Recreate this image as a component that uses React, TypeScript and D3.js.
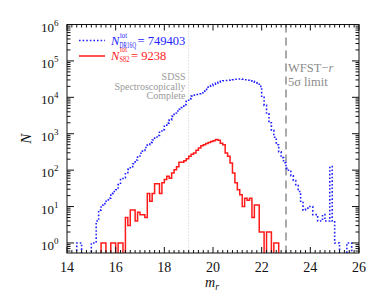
import React from 'react';
import * as d3 from 'd3';

// histogram bins are 0.1 mag wide, counts listed from the first bin edge
const binWidth = 0.1;

const blueStart = 14.4;
const blueCounts = [
  1, 1, 0, 0, 0, 0, 1, 1, 4, 8,
  11, 12, 14, 17, 23, 26, 29, 40, 55, 62,
  85, 105, 125, 150, 190, 230, 290, 350, 420, 500,
  580, 670, 760, 900, 1100, 1300, 1600, 1950, 2400, 3000,
  3700, 4200, 4700, 5200, 6300, 7800, 9200, 10800, 11500, 12000,
  12500, 13300, 14800, 16500, 19000, 21000, 23000, 24500, 26000, 27500,
  28500, 29000, 29500, 30000, 30500, 31500, 32000, 32000, 31500, 30500,
  29500, 28500, 27500, 26000, 25000, 20000, 10000, 6000, 3500, 2000,
  1250, 800, 500, 320, 220, 160, 112, 93, 70, 52,
  38, 26, 14, 8, 9, 10, 10, 6, 6, 4,
  4, 6, 4, 4, 126, 4, 1, 1, 0, 0,
  0, 1, 1,
];

const redStart = 15.4;
const redCounts = [
  1, 1, 0, 0, 1, 1, 0, 1, 1, 0,
  5, 3, 8, 8, 4, 7, 6, 6, 5, 23,
  14, 23, 42, 42, 23, 45, 55, 68, 60, 83,
  102, 123, 166, 166, 182, 204, 240, 275, 295, 350,
  405, 470, 500, 535, 575, 615, 640, 690, 660, 550,
  500, 295, 240, 157, 83, 45, 29, 21, 10, 17,
  15, 17, 5, 11, 11, 2, 2, 0, 2, 2,
  0, 1, 1,
];

const xTickLabels = [14, 16, 18, 20, 22, 24, 26];
const yTickExponents = [0, 1, 2, 3, 4, 5, 6];

const sdssLimit = 19;
const wfstLimit = 23;

const blueTotal = '749403';
const redTotal = '9238';

const W = 374;
const H = 299;
const left = 67;
const right = 359;
const top = 24.5;
const bottom = 253;

const serif = 'Liberation Serif';
const blue = '#2020ff';
const red = '#ff1a1a';

function stepPoints(start: number, counts: number[]): [number, number][] {
  const pts: [number, number][] = [];
  const floor = 0.05;
  pts.push([start, floor]);
  counts.forEach((c, i) => {
    const v = c > 0 ? c : floor;
    const x0 = start + i * binWidth;
    pts.push([x0, v]);
    pts.push([x0 + binWidth, v]);
  });
  pts.push([start + counts.length * binWidth, floor]);
  return pts;
}

export default function App() {
  const x = d3.scaleLinear().domain([14, 26]).range([left, right]);
  const y = d3.scaleLog().domain([0.53, 1e6]).range([bottom, top]);

  const line = d3
    .line<[number, number]>()
    .x((d) => x(d[0]))
    .y((d) => y(d[1]));

  const bluePath = line(stepPoints(blueStart, blueCounts)) || '';
  const redPath = line(stepPoints(redStart, redCounts)) || '';

  const xMinor = d3.range(14, 26.001, 0.2);
  const yMinor: number[] = [];
  for (let e = -1; e < 6; e++) {
    for (let k = 2; k < 10; k++) {
      const v = k * Math.pow(10, e);
      if (v >= 0.53 && v <= 1e6) yMinor.push(v);
    }
  }

  return (
    <svg
      width={W}
      height={H}
      style={{ position: 'absolute', left: 0, top: 0, background: '#fff' }}
    >
      <defs>
        <clipPath id="plot">
          <rect x={left} y={top} width={right - left} height={bottom - top} />
        </clipPath>
      </defs>

      {/* reference lines */}
      <line
        x1={x(sdssLimit)}
        x2={x(sdssLimit)}
        y1={top}
        y2={bottom}
        stroke="#c8c8c8"
        strokeWidth={1}
        strokeDasharray="1,2"
      />
      <line
        x1={x(wfstLimit)}
        x2={x(wfstLimit)}
        y1={top}
        y2={bottom}
        stroke="#aaaaaa"
        strokeWidth={2}
        strokeDasharray="8,5"
      />

      <g clipPath="url(#plot)">
        <path d={bluePath} fill="none" stroke={blue} strokeWidth={1.6} strokeDasharray="1.6,2" />
        <path d={redPath} fill="none" stroke={red} strokeWidth={1.5} />
      </g>

      {/* frame */}
      <rect x={left} y={top} width={right - left} height={bottom - top} fill="none" stroke="#111" strokeWidth={1} />

      {/* x ticks, bottom and top */}
      {xMinor.map((v, i) => {
        const major = Math.abs(v / 2 - Math.round(v / 2)) < 1e-6;
        const len = major ? 6 : 3;
        return (
          <g key={'xt' + i} stroke="#111" strokeWidth={1}>
            <line x1={x(v)} x2={x(v)} y1={bottom} y2={bottom - len} />
            <line x1={x(v)} x2={x(v)} y1={top} y2={top + len} />
          </g>
        );
      })}

      {/* y ticks, left and right */}
      {yTickExponents.map((e) => {
        const yy = y(Math.pow(10, e));
        return (
          <g key={'ym' + e} stroke="#111" strokeWidth={1}>
            <line x1={left} x2={left + 7} y1={yy} y2={yy} />
            <line x1={right} x2={right - 7} y1={yy} y2={yy} />
          </g>
        );
      })}
      {yMinor.map((v, i) => (
        <g key={'yn' + i} stroke="#111" strokeWidth={1}>
          <line x1={left} x2={left + 3.5} y1={y(v)} y2={y(v)} />
          <line x1={right} x2={right - 3.5} y1={y(v)} y2={y(v)} />
        </g>
      ))}

      <g fontFamily={serif}>
        {xTickLabels.map((v) => (
          <text key={'xl' + v} x={x(v)} y={272} fontSize={14} textAnchor="middle" fill="#111">
            {v}
          </text>
        ))}
        {yTickExponents.map((e) => (
          <text key={'yl' + e} x={58.5} y={y(Math.pow(10, e)) + 7} fontSize={13} textAnchor="end" fill="#111">
            10
            <tspan dy={-6} fontSize={9}>
              {e}
            </tspan>
          </text>
        ))}

        {/* axis titles */}
        <text x={212} y={287} fontSize={14} fontStyle="italic" textAnchor="middle" fill="#111">
          m
          <tspan dy={3} fontSize={9.5}>
            r
          </tspan>
        </text>
        <text
          transform={`translate(31, ${(top + bottom) / 2}) rotate(-90)`}
          fontSize={15}
          fontStyle="italic"
          textAnchor="middle"
          fill="#111"
        >
          N
        </text>

        {/* annotations */}
        <g fill="#9a9a9a" fontSize={10} textAnchor="end">
          <text x={185.5} y={80}>SDSS</text>
          <text x={185.5} y={89.5}>Spectroscopically</text>
          <text x={185.5} y={99}>Complete</text>
        </g>
        <g fill="#8c8c8c" fontSize={12.5}>
          <text x={288} y={72}>
            WFST−<tspan fontStyle="italic">r</tspan>
          </text>
          <text x={288} y={85.5}>5σ limit</text>
        </g>

        {/* legend */}
        <g fill={blue}>
          <text x={111} y={45} fontSize={12.5} fontStyle="italic">N</text>
          <text x={120} y={37.5} fontSize={7.5} textLength={7} lengthAdjust="spacingAndGlyphs">tot</text>
          <text x={119.5} y={47.5} fontSize={7.5} textLength={16.5} lengthAdjust="spacingAndGlyphs">DR16Q</text>
          <text x={137.5} y={45} fontSize={12.5}>= {blueTotal}</text>
        </g>
        <g fill={red}>
          <text x={111} y={59.5} fontSize={12.5} fontStyle="italic">N</text>
          <text x={120} y={52} fontSize={7.5} textLength={7} lengthAdjust="spacingAndGlyphs">tot</text>
          <text x={119.5} y={62} fontSize={7.5} textLength={10} lengthAdjust="spacingAndGlyphs">S82</text>
          <text x={131} y={59.5} fontSize={12.5}>= {redTotal}</text>
        </g>
      </g>
      <line x1={79} x2={105} y1={40.5} y2={40.5} stroke={blue} strokeWidth={1.6} strokeDasharray="1.6,2" />
      <line x1={79} x2={105} y1={56} y2={56} stroke={red} strokeWidth={1.5} />
    </svg>
  );
}
